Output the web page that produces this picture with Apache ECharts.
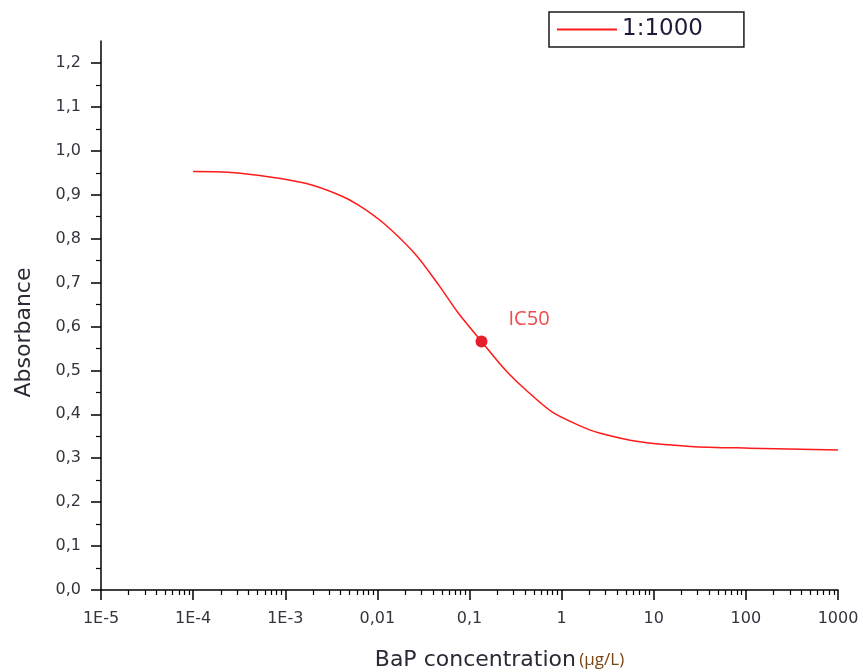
<!DOCTYPE html>
<html>
<head>
<meta charset="utf-8">
<script src="https://cdn.jsdelivr.net/npm/echarts@6/dist/echarts.min.js"></script>
<style>
  html, body { margin: 0; padding: 0; background: #ffffff; }
  #chart { width: 863px; height: 672px; }
</style>
</head>
<body>
<div id="chart"></div>
<script>
// Fitted dose-response curve for the 1:1000 dilution (BaP concentration in µg/L)
const concentration = [1e-4, 2.4e-4, 7.1e-4, 1.66e-3, 3.8e-3, 6.3e-3, 0.0117, 0.0257, 0.0468, 0.0759,
                       0.135, 0.245, 0.407, 0.794, 1.66, 2.51, 6.76, 25.1, 110, 1000];
const absorbance    = [0.953, 0.951, 0.940, 0.926, 0.900, 0.876, 0.835, 0.765, 0.693, 0.630,
                       0.566, 0.501, 0.456, 0.405, 0.372, 0.358, 0.338, 0.327, 0.323, 0.319];

// IC50 marker
const ic50Concentration = 0.135;
const ic50Absorbance = 0.566;

// Axis ticks and their labels
const xTicks = [1e-5, 1e-4, 1e-3, 1e-2, 1e-1, 1, 10, 100, 1000];
const xTickLabels = ['1E-5', '1E-4', '1E-3', '0,01', '0,1', '1', '10', '100', '1000'];
const xMinorTicks = [];
for (const d of [1e-5, 1e-4, 1e-3, 1e-2, 1e-1, 1, 10, 100]) {
  for (const m of [2, 3, 4, 5, 6, 7, 8, 9]) xMinorTicks.push(+(d * m).toPrecision(3));
}
const yTicks = [0, 0.1, 0.2, 0.3, 0.4, 0.5, 0.6, 0.7, 0.8, 0.9, 1.0, 1.1, 1.2];
const yTickLabels = ['0,0', '0,1', '0,2', '0,3', '0,4', '0,5', '0,6', '0,7', '0,8', '0,9', '1,0', '1,1', '1,2'];
const yMinorTicks = [0.05, 0.15, 0.25, 0.35, 0.45, 0.55, 0.65, 0.75, 0.85, 0.95, 1.05, 1.15];

const curve = concentration.map((c, i) => [c, absorbance[i]]);

function labelFor(ticks, labels, v, isLog) {
  const idx = ticks.findIndex(t => isLog
    ? Math.abs(Math.log10(t) - Math.log10(v)) < 1e-6
    : Math.abs(t - v) < 1e-6);
  return idx >= 0 ? labels[idx] : '';
}

const sans = '"DejaVu Sans", Arial, sans-serif';
const tickFont = { fontFamily: sans, fontSize: 16, color: '#34343f' };

const chart = echarts.init(document.getElementById('chart'), null, { renderer: 'canvas' });
chart.setOption({
  backgroundColor: '#ffffff',
  animation: false,
  grid: { left: 101, right: 25, top: 41, bottom: 82, containLabel: false, outerBoundsMode: 'none' },
  legend: {
    left: 549, top: 12,
    padding: [6, 41, 6, 8],
    borderColor: '#1a1a1a', borderWidth: 1.5,
    itemWidth: 60, itemHeight: 2,
    data: [{ name: '1:1000', icon: 'rect' }],
    textStyle: { fontFamily: sans, fontSize: 23, color: '#1c1c3a' }
  },
  xAxis: [{
    type: 'log', logBase: 10, min: 1e-5, max: 1000,
    name: '{a|BaP concentration} {b|(µg/L)}',
    nameLocation: 'middle', nameGap: 59,
    nameTextStyle: {
      padding: [0, 0, 0, 60],
      rich: {
        a: { fontFamily: sans, fontSize: 22, color: '#2a2a36' },
        b: { fontFamily: '"Open Sans", sans-serif', fontSize: 17, color: '#7a4514' }
      }
    },
    axisLine: { show: true, lineStyle: { color: '#000', width: 1.5 } },
    axisTick: { show: true, inside: false, length: 10, customValues: xTicks, lineStyle: { color: '#000', width: 1.5 } },
    axisLabel: {
      customValues: xTicks, margin: 21, ...tickFont,
      formatter: v => labelFor(xTicks, xTickLabels, v, true)
    },
    splitLine: { show: false }, minorTick: { show: false }
  }, {
    type: 'log', logBase: 10, min: 1e-5, max: 1000, position: 'bottom',
    axisLine: { show: false },
    axisTick: { show: true, inside: false, length: 5, customValues: xMinorTicks, lineStyle: { color: '#000', width: 1.2 } },
    axisLabel: { show: false },
    splitLine: { show: false }
  }],
  yAxis: [{
    type: 'value', min: 0, max: 1.25,
    name: 'Absorbance', nameLocation: 'middle', nameGap: 66, nameRotate: 90,
    nameTextStyle: { fontFamily: sans, fontSize: 22, color: '#2a2a36', padding: [0, 34, 0, 0] },
    axisLine: { show: true, lineStyle: { color: '#000', width: 1.5 } },
    axisTick: { show: true, inside: false, length: 10, customValues: yTicks, lineStyle: { color: '#000', width: 1.5 } },
    axisLabel: {
      customValues: yTicks, margin: 20, ...tickFont,
      formatter: v => labelFor(yTicks, yTickLabels, v, false)
    },
    splitLine: { show: false }
  }, {
    type: 'value', min: 0, max: 1.25, position: 'left',
    axisLine: { show: false },
    axisTick: { show: true, inside: false, length: 5, customValues: yMinorTicks, lineStyle: { color: '#000', width: 1.2 } },
    axisLabel: { show: false },
    splitLine: { show: false }
  }],
  series: [{
    name: '1:1000',
    type: 'line',
    xAxisIndex: 0, yAxisIndex: 0,
    data: curve,
    smooth: 0.3,
    symbol: 'none',
    lineStyle: { color: '#ff1a1a', width: 1.5 },
    itemStyle: { color: '#ff1a1a' },
    z: 2
  }, {
    name: 'IC50',
    type: 'scatter',
    xAxisIndex: 0, yAxisIndex: 0,
    data: [[ic50Concentration, ic50Absorbance]],
    symbolSize: 12,
    itemStyle: { color: '#e61e2a', opacity: 1 },
    label: {
      show: true, formatter: 'IC50', position: [33, -26],
      fontFamily: '"Open Sans", sans-serif', fontSize: 20, color: '#f04a4a'
    },
    z: 3
  }]
});
</script>
</body>
</html>
